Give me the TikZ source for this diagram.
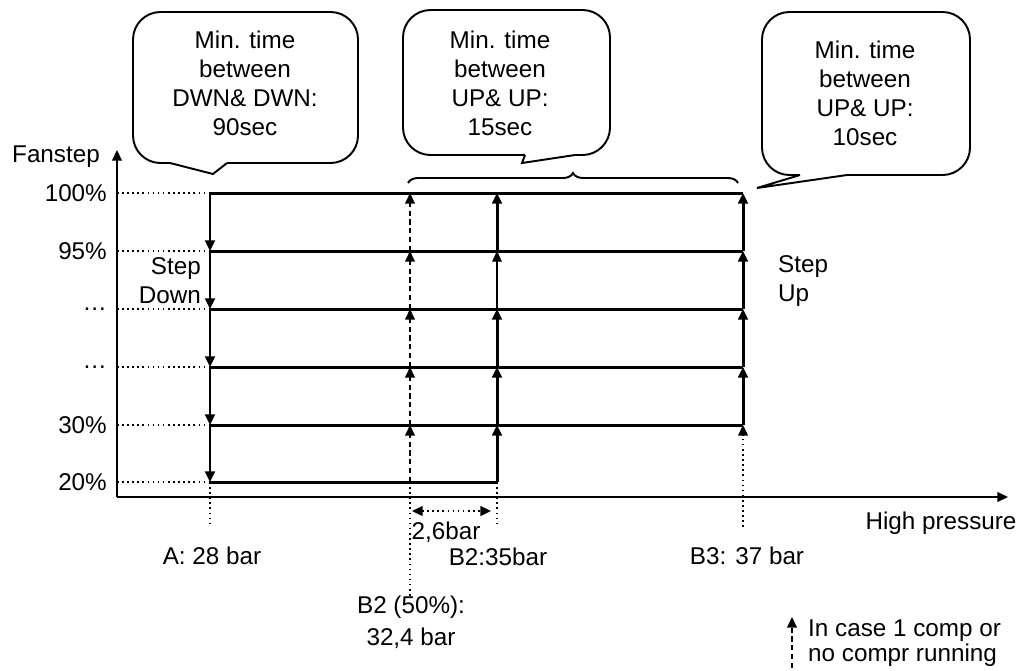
\documentclass[tikz,border=0pt]{standalone}
\usepackage{fontspec}
\setmainfont{Liberation Sans}
\usetikzlibrary{arrows.meta,decorations.pathreplacing}
\begin{document}
\begin{tikzpicture}[x=0.02cm,y=-0.02cm,font=\fontsize{13.8}{16.5}\selectfont,
    tip/.style={-{Triangle[length=6pt,width=5.5pt]}},
    stepline/.style={line width=1.7pt},
    dotline/.style={line width=1.1pt,dash pattern=on 0.9pt off 2pt},
    dashline/.style={line width=0.8pt,dash pattern=on 3pt off 2pt},
    bubble/.style={draw,fill=white,line width=1.1pt,rounded corners=0.55cm}]
    \useasboundingbox (0,0) rectangle (1026,670);
    \coordinate (o) at (117,497);
    \draw[line width=0.9pt,tip] (o) -- (117,150) coordinate (ytop);
    \draw[line width=0.9pt,tip] (o) -- (1008,497) coordinate (xend);
    \node[anchor=east] (fanstep) at (106,157) {Fanstep};
    \node (hp) at (941,523) {High pressure};
    \foreach \y/\lab [count=\i] in {193/100\%,251/95\%,309/…,367/…,425/30\%,482/20\%}{
        \coordinate (a\i) at (210,\y);
        \coordinate (b\i) at (410,\y);
        \coordinate (c\i) at (497,\y);
        \coordinate (d\i) at (743,\y);
        \node[anchor=east] (lev\i) at (113,\y) {\lab};
        \draw[dotline] (117,\y) -- (a\i);
    }
    \foreach \i in {1,...,5} \draw[stepline] (a\i) -- (d\i);
    \draw[stepline] (a6) -- (c6);
    \foreach \j [count=\i] in {2,...,6}{
        \draw[stepline,tip] (a\i) -- (a\j);
        \draw[dashline,tip] (b\j) -- (b\i);
    }
    \foreach \j/\i in {6/5,5/4,4/3,2/1} \draw[stepline,tip] (c\j) -- (c\i);
    \draw[line width=0.6pt,tip] (c3) -- (c2);
    \foreach \j/\i in {5/4,4/3,3/2,2/1} \draw[stepline,tip] (d\j) -- (d\i);
    \draw[dotline] (a6) -- (210,527) coordinate (aend);
    \draw[dotline] (b6) -- (410,598) coordinate (bend);
    \draw[dotline] (c6) -- (497,527) coordinate (cend);
    \draw[dotline,tip] (743,527) coordinate (dend) -- (d5);
    \coordinate (gapl) at (412,511);
    \coordinate (gapr) at (491,511);
    \draw[dotline,{Triangle[length=6pt,width=5.5pt]}-{Triangle[length=6pt,width=5.5pt]}] (gapl) -- (gapr);
    \node (gap) at (446,532) {2,6bar};
    \node[anchor=east,align=right] (stepdown) at (207,281) {Step\\Down};
    \node[anchor=west,align=left] (stepup) at (772,281) {Step\\Up};
    \node (pa) at (212,556) {A: 28 bar};
    \node (pb2) at (498,557) {B2:35bar};
    \node (pb3) at (747,556) {B3: 37 bar};
    \node[align=center] (pb50) at (411,622) {B2 (50\%):\\[1.5pt]32,4 bar};
    \draw[bubble] (133,12) rectangle (358,163);
    \fill[white] (170,160) -- (170,163) -- (213,174) -- (227,163) -- (227,160) -- cycle;
    \draw[line width=1.1pt] (170,163) -- (213,174) -- (227,163);
    \node[align=center] (down) at (245,83.5) {Min. time\\between\\DWN\& DWN:\\90sec};
    \draw[bubble] (403,10) rectangle (610,155);
    \fill[white] (525,152) -- (525,155) -- (522,163) -- (575,155) -- (575,152) -- cycle;
    \draw[line width=1.1pt] (525,155) -- (522,163) -- (575,155);
    \node[align=center] (upfast) at (500,83.5) {Min. time\\between\\UP\& UP:\\15sec};
    \draw[bubble] (762,12) rectangle (970,175);
    \fill[white] (800,172) -- (800,175) -- (757,188) -- (847,175) -- (847,172) -- cycle;
    \draw[line width=1.1pt] (800,175) -- (757,188) -- (847,175);
    \node[align=center] (upslow) at (865,93) {Min. time\\between\\UP\& UP:\\10sec};
    \draw[line width=1.1pt,decorate,decoration={brace,amplitude=0.2cm}] (408,183) -- (738,183);
    \draw[dashline,tip] (792,668) coordinate (lgbot) -- (792,617) coordinate (lgtop);
    \node[anchor=west,align=left] (legend) at (802,643) {In case 1 comp or\\[-2pt]no compr running};
\end{tikzpicture}
\end{document}
